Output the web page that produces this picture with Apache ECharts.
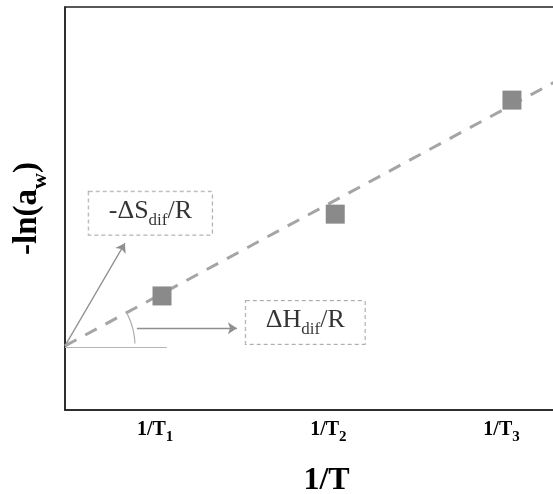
<!DOCTYPE html>
<html>
<head>
<meta charset="utf-8">
<script src="https://cdn.jsdelivr.net/npm/echarts@6/dist/echarts.min.js"></script>
<style>
  html, body { margin: 0; padding: 0; background: #ffffff; }
  #chart { width: 553px; height: 494px; }
</style>
</head>
<body>
<div id="chart"></div>
<script>
// measured points (1/T, -ln(aw)) in arbitrary units
const xValues = [1.04, 2.04, 3.06]
const yValues = [2.83, 4.86, 7.69]
// dashed fit line ends
const fitX = [0.48, 3.32]
const fitY = [1.59, 8.17]
// x tick positions and labels
const tickValues = [1, 2, 3]
const tickLabels = ['{m|1/T}{s|1}', '{m|1/T}{s|2}', '{m|1/T}{s|3}']
// annotations: arrows, baseline, angle arc, boxes
const slopeArrow = [[0.48, 1.59], [0.826, 4.14]]
const enthalpyArrow = [[0.895, 2.03], [1.472, 2.03]]
const baseLine = [[0.48, 1.56], [1.068, 1.56]]
const arcCenter = [[0.48, 1.59]]
const boxLabels = ['{m|-ΔS}{s|dif}{m|/R}', '{m|ΔH}{s|dif}{m|/R}']
const boxPos = [[0.973, 4.88], [1.867, 2.17]]

const serif = 'Liberation Serif'
const chart = echarts.init(document.getElementById('chart'))

const subRich = (size, subSize, lift, bold) => ({
  m: { fontSize: size, fontFamily: serif, fontWeight: bold ? 'bold' : 'normal', color: '#000', verticalAlign: 'bottom', padding: [0, 0, lift, 0] },
  s: { fontSize: subSize, fontFamily: serif, fontWeight: bold ? 'bold' : 'normal', color: '#000', verticalAlign: 'bottom' }
})

const option = {
  animation: false,
  grid: {
    left: 65,
    right: -4,
    top: 7,
    bottom: 84,
    outerBoundsMode: 'none',
    containLabel: false,
    show: true,
    borderColor: '#222',
    borderWidth: 1.5,
    backgroundColor: '#fff'
  },
  xAxis: {
    type: 'value',
    min: 0.48,
    max: 3.32,
    splitLine: { show: false },
    axisTick: { show: false },
    axisLine: { lineStyle: { color: '#222', width: 1.5 } },
    axisLabel: {
      customValues: tickValues,
      margin: 10,
      formatter: (v) => tickLabels[tickValues.indexOf(v)],
      rich: subRich(20, 15, 5, true)
    },
    name: '1/T',
    nameLocation: 'middle',
    nameGap: 55,
    nameTextStyle: { fontSize: 32, fontWeight: 'bold', fontFamily: serif, color: '#000', padding: [0, 0, 0, 31] }
  },
  yAxis: {
    type: 'value',
    min: 0,
    max: 10,
    splitLine: { show: false },
    axisTick: { show: false },
    axisLabel: { show: false },
    axisLine: { lineStyle: { color: '#222', width: 1.5 } },
    name: '{m|-ln(a}{s|w}{m|)}',
    nameLocation: 'middle',
    nameGap: 14,
    nameTextStyle: { rich: subRich(33, 22, 7, true) }
  },
  series: [
    {
      type: 'lines',
      coordinateSystem: 'cartesian2d',
      symbol: ['none', 'arrow'],
      symbolSize: 9,
      lineStyle: { color: '#8f8f8f', width: 1.3, opacity: 1 },
      data: [{ coords: slopeArrow }, { coords: enthalpyArrow }],
      z: 2
    },
    {
      type: 'lines',
      coordinateSystem: 'cartesian2d',
      symbol: 'none',
      lineStyle: { color: '#b5b5b5', width: 1.2, opacity: 1 },
      data: [{ coords: baseLine }],
      z: 2
    },
    {
      type: 'custom',
      coordinateSystem: 'cartesian2d',
      data: arcCenter,
      encode: { x: 0, y: 1 },
      renderItem: (params, api) => {
        const c = api.coord([api.value(0), api.value(1)])
        return {
          type: 'arc',
          shape: { cx: c[0], cy: c[1], r: 70, startAngle: -27 * Math.PI / 180, endAngle: -2 * Math.PI / 180, clockwise: true },
          style: { stroke: '#b0b0b0', fill: null, lineWidth: 1.2 }
        }
      },
      z: 2
    },
    {
      type: 'line',
      data: fitX.map((x, i) => [x, fitY[i]]),
      showSymbol: false,
      lineStyle: { color: '#a5a5a5', width: 3, type: [13, 10] },
      z: 3
    },
    {
      type: 'scatter',
      data: xValues.map((x, i) => [x, yValues[i]]),
      symbol: 'rect',
      symbolSize: 19,
      itemStyle: { color: '#8a8a8a', opacity: 1 },
      z: 4
    },
    {
      type: 'scatter',
      data: boxPos.map((p, i) => ({ value: p, label: { formatter: boxLabels[i] } })),
      symbolSize: 0,
      itemStyle: { color: 'transparent' },
      label: {
        show: true,
        position: 'inside',
        backgroundColor: '#fff',
        borderColor: '#9a9a9a',
        borderWidth: 1,
        borderType: [4, 3],
        padding: [6, 20],
        rich: subRich(26, 17, 5, false)
      },
      z: 5
    }
  ]
}

chart.setOption(option)
</script>
</body>
</html>
